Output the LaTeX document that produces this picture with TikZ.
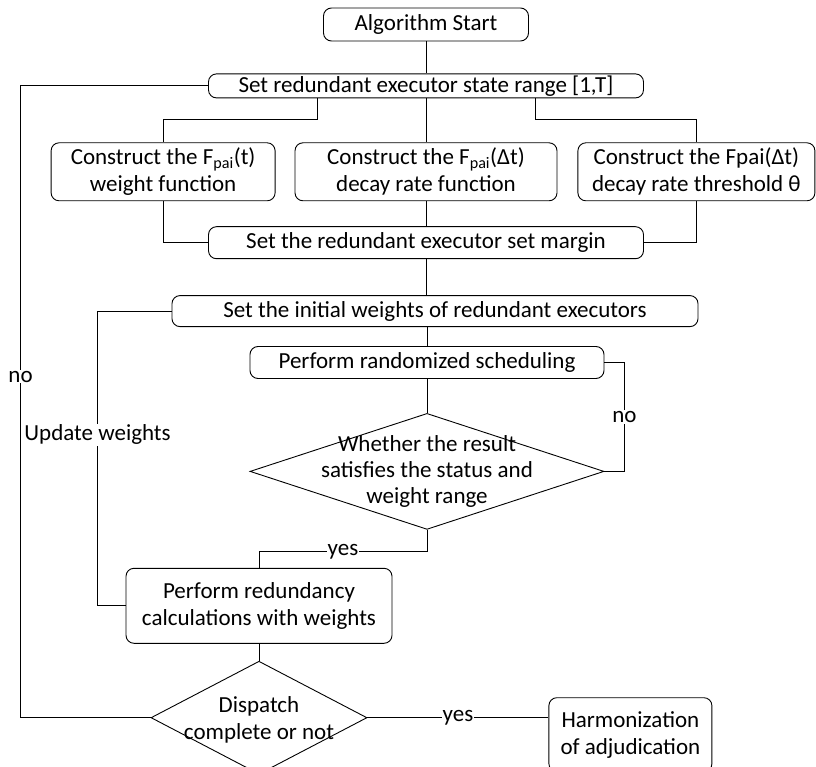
\documentclass[tikz,border=0pt]{standalone}
\usepackage{fontspec}
\setmainfont{Carlito}
\usetikzlibrary{positioning,shapes.geometric}

\begin{document}
\begin{tikzpicture}[x=1pt,y=1pt,
  font=\fontsize{23}{27}\selectfont,
  box/.style={draw, rounded corners=8pt, align=center, inner sep=1pt, line width=0.9pt},
  decision/.style={draw, diamond, inner sep=0pt, line width=0.9pt},
  lbl/.style={fill=white, inner sep=1pt},
  every path/.style={line width=0.9pt}]

\useasboundingbox (0,0) rectangle (816,-767);

 % Nodes

\node[box, minimum width=205pt, minimum height=33pt] (start) at (426,-24.5) {Algorithm Start};
\node[box, below=32pt of start, minimum width=435pt, minimum height=24pt] (range) {Set redundant executor state range [1,T]};

\node[box, below=44pt of range, minimum width=262pt, minimum height=58pt] (b2)
  {Construct the F\textsubscript{pai}(Δt)\\decay rate function};
\node[box, left=19pt of b2, minimum width=224pt, minimum height=58pt] (b1)
  {Construct the F\textsubscript{pai}(t)\\weight function};
\node[box, right=20pt of b2, minimum width=237pt, minimum height=58pt] (b3)
  {Construct the Fpai(Δt)\\decay rate threshold θ};

\node[box, below=25pt of b2, minimum width=435pt, minimum height=32pt] (margin) {Set the redundant executor set margin};
\node[box, below=36pt of margin, xshift=9pt, minimum width=526pt, minimum height=31pt] (init) {Set the initial weights of redundant executors};
\node[box, below=19pt of init, xshift=-8pt, minimum width=354pt, minimum height=32pt] (rand) {Perform randomized scheduling};

\node[decision, below=34pt of rand, minimum width=354pt, minimum height=116pt,
  label={[align=center, font=\fontsize{23}{26}\selectfont]center:Whether the result\\satisfies the status and\\weight range}] (check) {};

\node[box, below=38pt of check, xshift=-168pt, minimum width=266pt, minimum height=75pt] (calc)
  {Perform redundancy\\calculations with weights};
\node[decision, below=17pt of calc, minimum width=216pt, minimum height=113pt,
  label={[align=center, yshift=-2pt]center:Dispatch\\complete or not}] (done) {};
\node[box, right=181pt of done, yshift=-17pt, minimum width=163pt, minimum height=74pt] (harm)
  {Harmonization\\of adjudication};

% Connect nodes
  \draw (start) -- (range);
  \draw ([xshift=-109pt]range.south) -- ++(0,-21pt) -| (b1.north);
  \draw (range) -- (b2);
  \draw ([xshift=109pt]range.south) -- ++(0,-21pt) -| (b3.north);

  \draw (b1.south) |- (margin.west);
  \draw (b2) -- (margin);
  \draw (b3.south) |- (margin.east);

  \draw (margin.south) -- (margin.south |- init.north);
  \draw (rand.north |- init.south) -- (rand.north);
  \draw (rand) -- (check);

  \draw (check.east) -- ++(20pt,0) |- node[lbl, pos=0.25] {no} (rand.east);
  \draw (check.south) -- ++(0,-22pt) -| node[lbl, pos=0.25] {yes} (calc.north);
  \draw (init.west) -- ++(-74pt,0) |- node[lbl, pos=0.21] {Update weights} (calc.west);

  \draw (calc) -- (done);
  \draw (done.west) -- ++(-130pt,0) |- node[lbl, pos=0.27] {no} (range.west);
  \draw (done.east) -- node[lbl] {yes} (done.east -| harm.west);

\end{tikzpicture}
\end{document}
